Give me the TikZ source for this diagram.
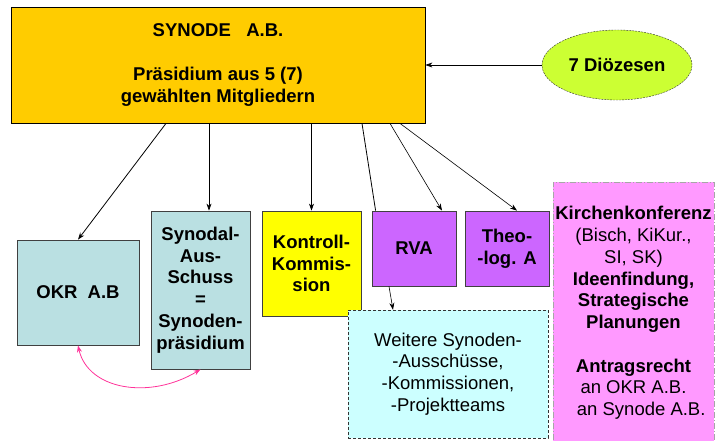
\documentclass[tikz,border=0pt]{standalone}
\usepackage{fontspec}
\setmainfont{Liberation Sans}
\usetikzlibrary{arrows.meta,calc,shapes.geometric}
\definecolor{synodeorange}{HTML}{FFCC00}
\definecolor{dioezgreen}{HTML}{CCFF33}
\definecolor{okrblue}{HTML}{BAE0E2}
\definecolor{kontrollyellow}{HTML}{FFFF00}
\definecolor{rvapurple}{HTML}{CC66FF}
\definecolor{weiterecyan}{HTML}{CCFFFF}
\definecolor{kirchenpink}{HTML}{FF99FF}
\definecolor{linkpink}{HTML}{FF3399}

\begin{document}
\begin{tikzpicture}[x=1pt,y=-1pt,
    txt/.style={font=\fontsize{18.5}{21.7}\selectfont, align=center, inner sep=0pt},
    bold/.style={font=\fontsize{18.5}{21.7}\selectfont\bfseries, align=center, inner sep=0pt},
    box/.style={draw=black!75, line width=0.8pt},
    arr/.style={-{Stealth[length=7pt,width=5pt]}, line width=0.6pt}]
        \useasboundingbox (0,0) rectangle (716,441);
        % top
        \node[box, bold, draw=black, fill=synodeorange, minimum width=414, minimum height=116] (synode) at (218,65)
            {SYNODE\ \ \ A.B.\\[22pt]Präsidium aus 5 (7)\\gewählten Mitgliedern};
        \node[ellipse, bold, draw=black!80, dash pattern=on 2pt off 1pt, fill=dioezgreen, minimum width=150, minimum height=70] (dioez) at (617,65) {7 Diözesen};
        % second row
        \node[box, bold, fill=okrblue, minimum width=122, minimum height=105] (okr) at (78,292.5) {OKR\ \ A.B};
        \node[box, bold, fill=okrblue, minimum width=99, minimum height=158] (synodal) at (200.5,290)
            {Synodal-\\Aus-\\Schuss\\=\\Synoden-\\präsidium};
        \node[box, bold, fill=kontrollyellow, minimum width=99, minimum height=105] (kontroll) at (311.5,263.5)
            {Kontroll-\\Kommis-\\sion};
        \node[box, bold, fill=rvapurple, minimum width=84, minimum height=75] (rva) at (414,248.5) {RVA};
        \node[box, bold, fill=rvapurple, minimum width=84, minimum height=75] (theo) at (507,248.5) {Theo-\\-log. A};
        \node[txt, draw=black!80, dash pattern=on 3pt off 2pt, fill=weiterecyan, minimum width=200, minimum height=128] (weitere) at (448,374)
            {Weitere Synoden-\\-Ausschüsse,\\-Kommissionen,\\-Projektteams};
        \node[txt, draw=black!35, dash pattern=on 6pt off 2pt on 1pt off 2pt, fill=kirchenpink, minimum width=161, minimum height=262] (kirchen) at (633.5,313)
            {\textbf{Kirchenkonferenz}\\(Bisch, KiKur.,\\SI, SK)\\\textbf{Ideenfindung,}\\\textbf{Strategische}\\\textbf{Planungen}\\[22pt]
             \textbf{Antragsrecht}\\an OKR A.B.\\\ \ \ an Synode A.B.};
        % connectors
        \draw[arr] (dioez.west) -- (synode.east);
        \draw[arr, line width=0.8pt] ($(synode.south)+(-52,0)$) -- (okr.north);
        \draw[arr] ($(synode.south)+(-9,0)$) -- ($(synodal.north)+(8.5,0)$);
        \draw[arr] (synode.south -| kontroll.north) -- (kontroll.north);
        \draw[line width=0.8pt] ($(synode.south)+(144,0)$) -- ($(rva.north west)+(4,0)$);
        \draw[arr] ($(synode.south)+(172,0)$) -- ($(rva.north)+(28,0)$);
        \draw[arr] ($(synode.south)+(182,0)$) -- ($(theo.north)+(10,0)$);
        \draw[arr] ($(rva.south)+(-25,0)$) -- ($(weitere.north)+(-55,0)$);
        \draw[{Stealth[length=7pt,width=5pt]}-{Stealth[length=7pt,width=5pt]}, linkpink, line width=0.8pt]
            (okr.south) .. controls (88,390) and (150,400) .. (synodal.south);
\end{tikzpicture}
\end{document}
